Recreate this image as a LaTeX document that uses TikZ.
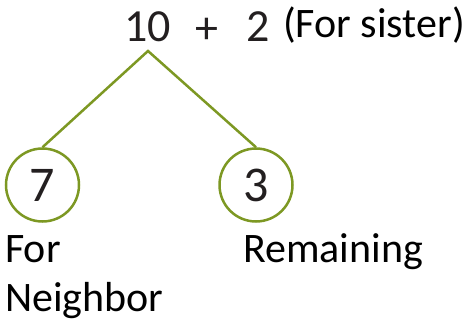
\documentclass[tikz,border=0pt]{standalone}
\usepackage{fontspec}
\setmainfont{Carlito}
\definecolor{leafgreen}{RGB}{125,152,35}
\definecolor{digitgray}{RGB}{35,31,32}

\begin{document}
\begin{tikzpicture}[
		x=1pt, y=-1pt,
		every node/.style={inner sep=0pt, anchor=base west},
		big/.style={font=\fontsize{46}{50}\selectfont, text=digitgray},
		word/.style={font=\fontsize{42}{48}\selectfont},
		leaf/.style={circle, draw=leafgreen, line width=2.5pt, minimum size=73pt,
			anchor=center, font=\fontsize{50}{54}\selectfont, text=digitgray}
	]
  \useasboundingbox (0,0) rectangle (471,320);
  \node (ten) [big] at (124, 42) {10};
  \node (plus) [big, anchor=center] at (207, 31) {+};
  \node (two) [big] at (246, 42) {2};
  \node (sister) [word] at (283, 38) {(For sister)};
  \coordinate (apex) at (148, 51);
  \node (seven) [leaf] at (42.5, 185) {7};
  \node (three) [leaf] at (256, 185) {3};
  \node (for) [word] at (5, 263) {For};
  \node (neighbor) [word] at (5, 311) {Neighbor};
  \node (remaining) [word] at (243, 263) {Remaining};
  \draw [leafgreen, line width=2.5pt] (seven.north) -- (apex) -- (three.north);
\end{tikzpicture}
\end{document}
